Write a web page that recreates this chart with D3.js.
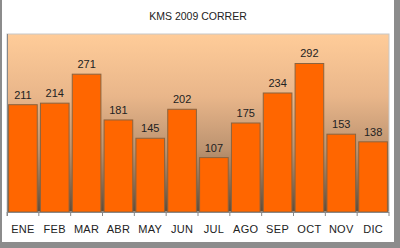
<!DOCTYPE html>
<html lang="es">
<head>
  <meta charset="UTF-8">
  <title>KMS 2009 CORRER</title>
  <script src="https://d3js.org/d3.v7.min.js"></script>
  <style>
    body { margin: 0; background: #fff; }
    svg { display: block; font-family: "Liberation Sans", Arial, sans-serif; }
  </style>
</head>
<body>
  <svg width="400" height="248"></svg>
  <script>
    // Meses y kilometros
    const months = ["ENE", "FEB", "MAR", "ABR", "MAY", "JUN", "JUL", "AGO", "SEP", "OCT", "NOV", "DIC"];
    const kms = [211, 214, 271, 181, 145, 202, 107, 175, 234, 292, 153, 138];
    const title = "KMS 2009 CORRER";

    const svg = d3.select("svg");
    const width = +svg.attr("width");
    const height = +svg.attr("height");

    // outer frame (grey edges of the screenshot)
    svg.append("rect").attr("x", 0).attr("y", 0).attr("width", width).attr("height", height).attr("fill", "#8c8c8c");
    svg.append("rect").attr("x", 2).attr("y", 0).attr("width", 392).attr("height", 242).attr("fill", "#fff");

    const plot = { left: 7, right: 389, top: 34, bottom: 212 };

    const defs = svg.append("defs");
    const grad = defs.append("linearGradient").attr("id", "bg").attr("x1", 0).attr("y1", 0).attr("x2", 0).attr("y2", 1);
    grad.append("stop").attr("offset", "0%").attr("stop-color", "#ffcc99");
    grad.append("stop").attr("offset", "35%").attr("stop-color", "#e9b68a");
    grad.append("stop").attr("offset", "65%").attr("stop-color", "#bc9370");
    grad.append("stop").attr("offset", "100%").attr("stop-color", "#5f4c3a");

    svg.append("rect")
      .attr("x", plot.left).attr("y", plot.top)
      .attr("width", plot.right - plot.left).attr("height", plot.bottom - plot.top)
      .attr("fill", "url(#bg)")
      .attr("stroke", "#c8c8c8").attr("stroke-width", 1);

    const x = d3.scaleBand().domain(months).range([plot.left, plot.right]).paddingInner(0.1).paddingOuter(0.05);
    const y = d3.scaleLinear().domain([0, 350]).range([plot.bottom, plot.top]);

    svg.append("g")
      .selectAll("rect")
      .data(kms)
      .join("rect")
      .attr("x", (d, i) => x(months[i]))
      .attr("y", d => y(d))
      .attr("width", x.bandwidth())
      .attr("height", d => y(0) - y(d))
      .attr("fill", "#ff6600")
      .attr("stroke", "#8a6440")
      .attr("stroke-width", 1);

    svg.append("g")
      .selectAll("text")
      .data(kms)
      .join("text")
      .attr("x", (d, i) => x(months[i]) + x.bandwidth() / 2)
      .attr("y", d => y(d) - 6)
      .attr("text-anchor", "middle")
      .attr("font-size", "11px")
      .attr("fill", "#222")
      .text(d => d);

    // x axis
    const ax = svg.append("g");
    ax.append("line")
      .attr("x1", plot.left).attr("x2", plot.right)
      .attr("y1", plot.bottom + 0.5).attr("y2", plot.bottom + 0.5)
      .attr("stroke", "#888");
    ax.append("line")
      .attr("x1", plot.left + 0.5).attr("x2", plot.left + 0.5)
      .attr("y1", plot.top).attr("y2", plot.bottom + 4)
      .attr("stroke", "#888");
    ax.selectAll(".tick")
      .data(d3.range(months.length + 1))
      .join("line")
      .attr("x1", i => plot.left + i * (plot.right - plot.left) / months.length)
      .attr("x2", i => plot.left + i * (plot.right - plot.left) / months.length)
      .attr("y1", plot.bottom)
      .attr("y2", plot.bottom + 4)
      .attr("stroke", "#888");
    ax.selectAll("text")
      .data(months)
      .join("text")
      .attr("x", d => x(d) + x.bandwidth() / 2)
      .attr("y", 233)
      .attr("text-anchor", "middle")
      .attr("font-size", "11px")
      .attr("letter-spacing", "0.3px")
      .attr("fill", "#222")
      .text(d => d);

    svg.append("text")
      .attr("x", 198).attr("y", 20)
      .attr("text-anchor", "middle")
      .attr("font-size", "10.5px")
      .attr("fill", "#222")
      .text(title);
  </script>
</body>
</html>
